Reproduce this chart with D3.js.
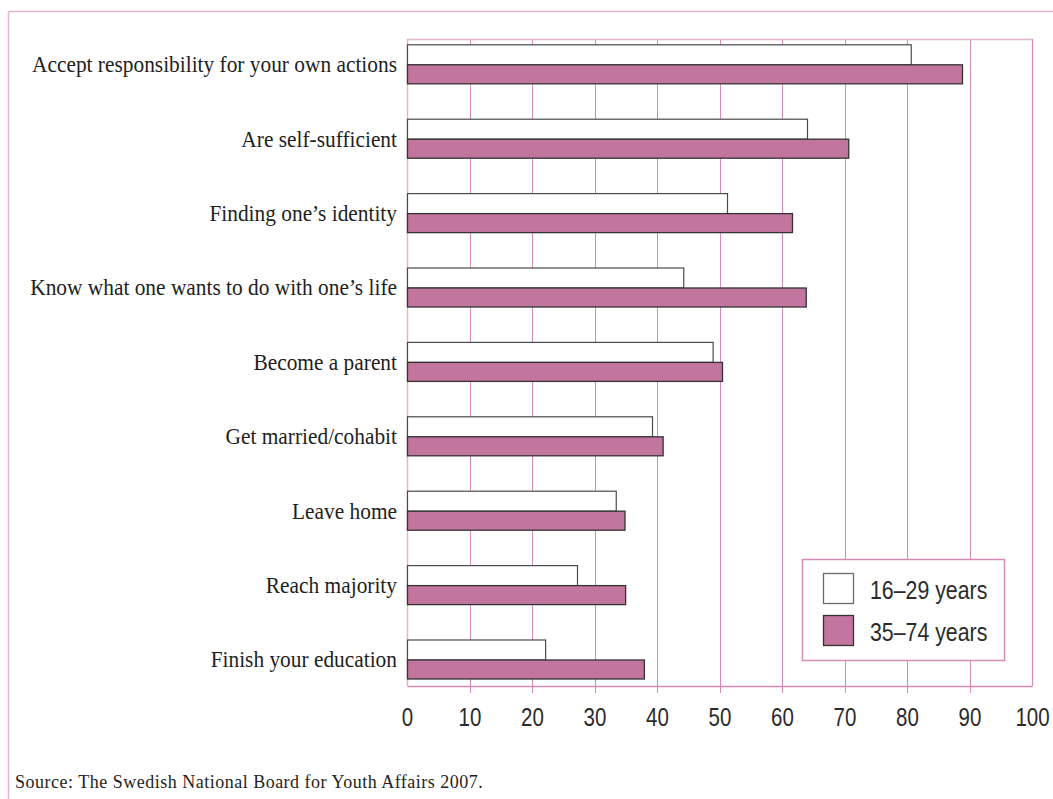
<!DOCTYPE html>
<html>
<head>
<meta charset="utf-8">
<script src="https://cdn.jsdelivr.net/npm/d3@7"></script>
<style>
  html, body { margin: 0; padding: 0; background: #fff; }
  svg { display: block; }
</style>
</head>
<body>
<svg id="chart" width="1053" height="799"></svg>
<script>
const categories = [
  "Accept responsibility for your own actions",
  "Are self-sufficient",
  "Finding one’s identity",
  "Know what one wants to do with one’s life",
  "Become a parent",
  "Get married/cohabit",
  "Leave home",
  "Reach majority",
  "Finish your education"
];
const young = [80.6, 64.0, 51.2, 44.2, 48.9, 39.2, 33.4, 27.2, 22.1];
const older = [88.8, 70.6, 61.6, 63.8, 50.4, 40.9, 34.8, 34.9, 37.9];
const seriesNames = ["16–29 years", "35–74 years"];
const tickValues = [0, 10, 20, 30, 40, 50, 60, 70, 80, 90, 100];
const sourceText = "Source: The Swedish National Board for Youth Affairs 2007.";

const W = 1053, H = 799;
const plot = { left: 407, right: 1032, top: 39, bottom: 686 };
const pinkFill = "#c2769d";
const gridCol = "#d58ab8";
const lightCol = "#e2b4cf";
const barH = 20;
const sansNarrow = "'Liberation Sans', Arial, sans-serif";
const narrow = 0.82;

const svg = d3.select("#chart");

// outer frame (top and left only)
svg.append("line").attr("x1", 8.5).attr("x2", W).attr("y1", 11.5).attr("y2", 11.5)
  .attr("stroke", lightCol).attr("stroke-width", 1.5);
svg.append("line").attr("x1", 8.5).attr("x2", 8.5).attr("y1", 11.5).attr("y2", H)
  .attr("stroke", lightCol).attr("stroke-width", 1.5);

const x = d3.scaleLinear().domain([0, 100]).range([plot.left, plot.right]);
const y = d3.scalePoint().domain(categories)
  .range([plot.top + 25.3, plot.bottom - 26.5]);

// gridlines (10..90), extending below axis as ticks
svg.append("g").selectAll("line").data(tickValues.filter(v => v > 0 && v < 100))
  .join("line")
  .attr("x1", d => Math.round(x(d)) + 0.5).attr("x2", d => Math.round(x(d)) + 0.5)
  .attr("y1", plot.top).attr("y2", plot.bottom + 7)
  .attr("stroke", gridCol).attr("stroke-width", 1);

// plot border
svg.append("line").attr("x1", plot.left).attr("x2", plot.right + 1).attr("y1", plot.top + 0.5).attr("y2", plot.top + 0.5)
  .attr("stroke", lightCol).attr("stroke-width", 1.5);
svg.append("line").attr("x1", plot.left + 0.5).attr("x2", plot.left + 0.5).attr("y1", plot.top).attr("y2", plot.bottom)
  .attr("stroke", lightCol).attr("stroke-width", 1.5);
svg.append("line").attr("x1", plot.right + 0.5).attr("x2", plot.right + 0.5).attr("y1", plot.top).attr("y2", plot.bottom)
  .attr("stroke", gridCol).attr("stroke-width", 1.2);

// bottom axis
const axis = d3.axisBottom(x).tickValues(tickValues).tickSize(0).tickFormat(d3.format("d"));
const gAxis = svg.append("g").attr("transform", `translate(0,${plot.bottom})`).call(axis);
gAxis.select(".domain").attr("stroke", gridCol).attr("stroke-width", 1.5);
gAxis.selectAll(".tick text")
  .attr("x", 0).attr("y", 0).attr("dy", "0.36em")
  .attr("transform", `translate(0,31) scale(${narrow},1)`)
  .attr("fill", "#2b2b2b")
  .style("font-family", sansNarrow)
  .style("font-size", "25px");

// bars
const rows = categories.map((c, i) => ({ c, a: young[i], b: older[i] }));
const g = svg.append("g");
g.selectAll("rect.young").data(rows).join("rect").attr("class", "young")
  .attr("x", x(0) + 0.5).attr("y", d => y(d.c) - barH + 0.5)
  .attr("width", d => x(d.a) - x(0)).attr("height", barH)
  .attr("fill", "#fff").attr("stroke", "#4a4a4a").attr("stroke-width", 1.2);
g.selectAll("rect.older").data(rows).join("rect").attr("class", "older")
  .attr("x", x(0) + 0.5).attr("y", d => y(d.c) + 0.5)
  .attr("width", d => x(d.b) - x(0)).attr("height", barH - 1)
  .attr("fill", pinkFill).attr("stroke", "#333").attr("stroke-width", 1.3);

// category labels
svg.append("g").selectAll("text").data(categories).join("text")
  .attr("x", 0).attr("y", 0).attr("dy", "0.34em")
  .attr("transform", d => `translate(${plot.left - 10},${y(d)}) scale(0.93,1)`)
  .attr("text-anchor", "end")
  .attr("fill", "#1e1e1e")
  .style("font-family", "'Liberation Serif', 'Times New Roman', serif")
  .style("font-size", "23px")
  .text(d => d);

// legend
const lg = svg.append("g");
lg.append("rect").attr("x", 802.5).attr("y", 559.5).attr("width", 202).attr("height", 101)
  .attr("fill", "#fff").attr("stroke", gridCol).attr("stroke-width", 1.5);
const legendItems = seriesNames.map((n, i) => ({ n, i }));
lg.selectAll("rect.sw").data(legendItems).join("rect").attr("class", "sw")
  .attr("x", 823.5).attr("y", d => 573.5 + d.i * 42)
  .attr("width", 30).attr("height", 30)
  .attr("fill", d => d.i === 0 ? "#fff" : pinkFill)
  .attr("stroke", d => d.i === 0 ? "#6a6a6a" : "#333").attr("stroke-width", 1.3);
lg.selectAll("text").data(legendItems).join("text")
  .attr("x", 0).attr("y", 0).attr("dy", "0.36em")
  .attr("transform", d => `translate(870,${590 + d.i * 42}) scale(${narrow},1)`)
  .attr("fill", "#2b2b2b")
  .style("font-family", sansNarrow)
  .style("font-size", "26px")
  .text(d => d.n);

// source
svg.append("text").attr("x", 15).attr("y", 788)
  .attr("fill", "#1e1e1e")
  .style("font-family", "'Liberation Serif', 'Times New Roman', serif")
  .style("font-size", "18px")
  .style("letter-spacing", "0.5px")
  .text(sourceText);
</script>
</body>
</html>
